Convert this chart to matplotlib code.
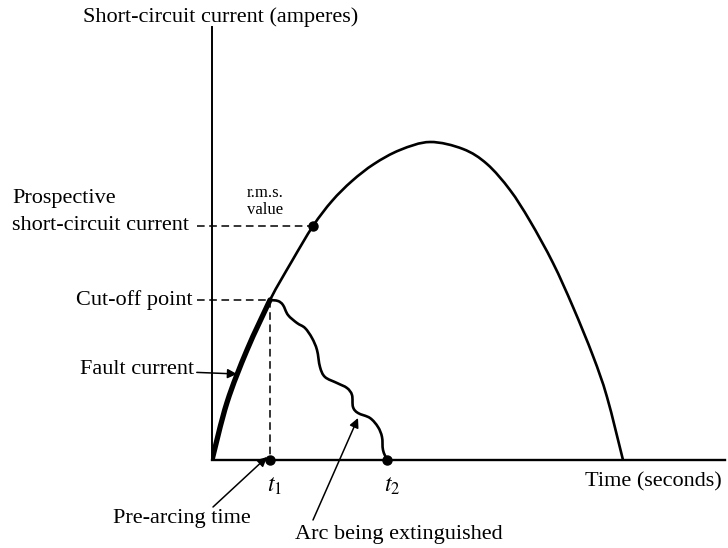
import matplotlib
matplotlib.use('Agg')
import matplotlib.pyplot as plt
from matplotlib.path import Path
from matplotlib.patches import PathPatch

plt.rcParams['font.family'] = ['Liberation Serif', 'DejaVu Serif']
plt.rcParams['mathtext.fontset'] = 'stix'

# Prospective short-circuit current (time, current), arbitrary units
t_prosp = [0.0, 0.30, 0.70, 1.16, 1.60, 2.02, 2.40, 2.80, 3.24, 3.76, 4.36,
           5.02, 5.50, 5.96, 6.36, 6.82, 7.22, 7.62, 7.90, 8.22]
i_prosp = [0.0, 1.15, 2.20, 3.20, 3.98, 4.68, 5.18, 5.58, 5.92, 6.20, 6.36,
           6.22, 5.92, 5.40, 4.78, 3.94, 3.06, 2.08, 1.26, 0.0]

# Fault current up to the cut-off point
t_fault = [0.0, 0.30, 0.70, 1.16]
i_fault = [0.0, 1.15, 2.20, 3.20]

# Arc current while being extinguished
t_arc = [1.16, 1.32, 1.42, 1.52, 1.70, 1.86, 2.00, 2.10, 2.16, 2.26, 2.50,
         2.70, 2.80, 2.82, 2.92, 3.16, 3.32, 3.40, 3.42, 3.50]
i_arc = [3.20, 3.18, 3.10, 2.90, 2.74, 2.64, 2.44, 2.20, 1.86, 1.66, 1.54,
         1.44, 1.30, 1.06, 0.94, 0.84, 0.66, 0.46, 0.20, 0.0]

t1, t2 = 1.16, 3.50
cutoff = (1.16, 3.20)
rms = (2.02, 4.68)


# smooth curve through the given points (Catmull-Rom as cubic Beziers)
def smooth_path(xs, ys):
    pts = list(zip(xs, ys))
    verts = [pts[0]]
    codes = [Path.MOVETO]
    for k in range(len(pts) - 1):
        p0 = pts[max(k - 1, 0)]
        p1 = pts[k]
        p2 = pts[k + 1]
        p3 = pts[min(k + 2, len(pts) - 1)]
        c1 = (p1[0] + (p2[0] - p0[0]) / 6, p1[1] + (p2[1] - p0[1]) / 6)
        c2 = (p2[0] - (p3[0] - p1[0]) / 6, p2[1] - (p3[1] - p1[1]) / 6)
        verts += [c1, c2, p2]
        codes += [Path.CURVE4] * 3
    return Path(verts, codes)


fig = plt.figure(figsize=(7.28, 5.48), dpi=100)
ax = fig.add_axes([212 / 728, 88 / 548, 513 / 728, 433 / 548])
ax.set_xlim(0, 10.26)
ax.set_ylim(0, 8.66)
for s in ['top', 'right']:
    ax.spines[s].set_visible(False)
ax.spines['left'].set_linewidth(1.4)
ax.spines['bottom'].set_linewidth(1.7)
ax.set_xticks([])
ax.set_yticks([])

ax.add_patch(PathPatch(smooth_path(t_prosp, i_prosp), fill=False,
                       color='black', lw=1.9, capstyle='round'))
ax.add_patch(PathPatch(smooth_path(t_fault, i_fault), fill=False,
                       color='black', lw=3.8, capstyle='round'))
ax.add_patch(PathPatch(smooth_path(t_arc, i_arc), fill=False,
                       color='black', lw=1.9))

# dashed guide lines
dash = dict(color='black', lw=1.1, dashes=(5, 3), clip_on=False)
ax.plot([-0.3, cutoff[0]], [cutoff[1], cutoff[1]], **dash)
ax.plot([cutoff[0], cutoff[0]], [cutoff[1], 0], **dash)
ax.plot([-0.3, rms[0]], [rms[1], rms[1]], **dash)

ax.plot([rms[0], t1, t2], [rms[1], 0, 0], 'o', color='black', ms=6.5,
        clip_on=False, zorder=5)

fs = 16
txt = dict(fontsize=fs, clip_on=False)
ax.text(0.18, 8.86, 'Short-circuit current (amperes)', ha='center',
        va='center', **txt)
ax.text(-4.0, 5.22, 'Prospective', ha='left', va='center', **txt)
ax.text(-4.0, 4.68, 'short-circuit current', ha='left', va='center', **txt)
ax.text(-0.38, 3.20, 'Cut-off point', ha='right', va='center', **txt)
ax.text(7.46, -0.44, 'Time (seconds)', ha='left', va='center', **txt)
ax.text(1.06, 5.17, 'r.m.s.\nvalue', ha='center', va='center', fontsize=12,
        linespacing=1.05)
ax.text(t1 + 0.1, -0.52, '$t_1$', ha='center', va='center', fontsize=17)
ax.text(t2 + 0.1, -0.52, '$t_2$', ha='center', va='center', fontsize=17)

arrow = dict(arrowstyle='-|>', color='black', lw=1.1, mutation_scale=14,
             shrinkA=0, shrinkB=0)
ax.annotate('Fault current', xy=(0.50, 1.72), xytext=(-0.36, 1.80),
            ha='right', va='center', arrowprops=arrow,
            annotation_clip=False, fontsize=fs)
ax.annotate('', xy=(t1 - 0.06, 0.06), xytext=(0.02, -0.94), arrowprops=arrow,
            annotation_clip=False)
ax.text(0.78, -1.16, 'Pre-arcing time', ha='right', va='center', **txt)
ax.annotate('', xy=(2.92, 0.84), xytext=(2.02, -1.2), arrowprops=arrow,
            annotation_clip=False)
ax.text(1.66, -1.5, 'Arc being extinguished', ha='left', va='center', **txt)

fig.savefig('out.png', dpi=100)
